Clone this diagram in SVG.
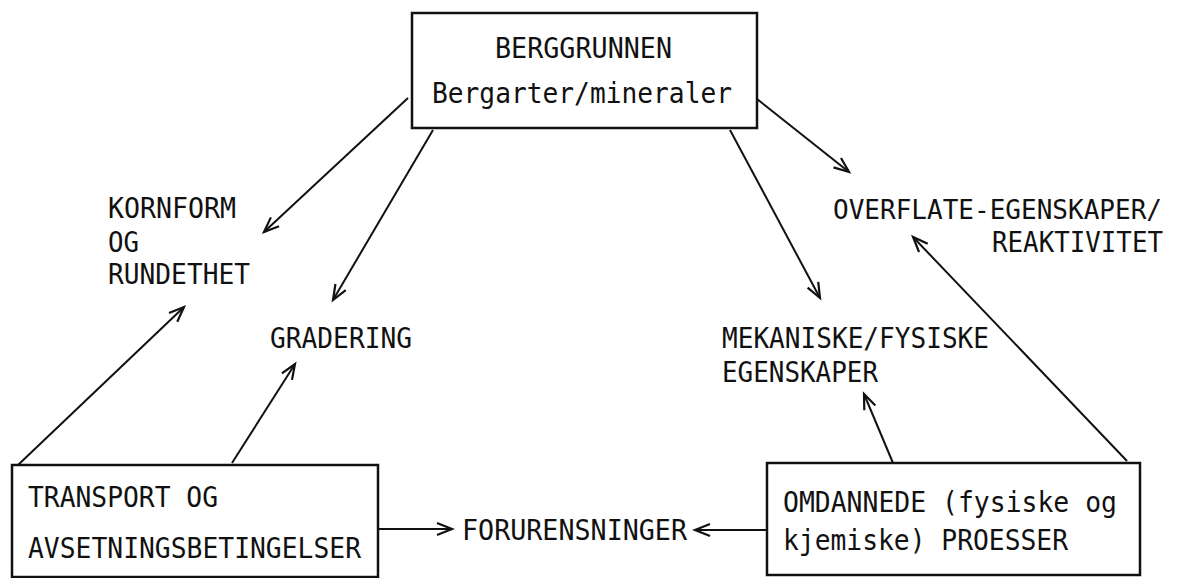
<svg xmlns="http://www.w3.org/2000/svg" width="1178" height="578" viewBox="0 0 1178 578">
<style>
text{font-family:"DejaVu Sans Mono","Liberation Mono",monospace;font-size:28px;fill:#111}
text.s{font-size:26px}
.box{fill:#fff;stroke:#111;stroke-width:2.5}
.c{fill:none;stroke:#111;stroke-width:2;marker-end:url(#ah)}
</style>
<defs>
<marker id="ah" viewBox="-16 -8 18 16" refX="0" refY="0" markerWidth="18" markerHeight="16" markerUnits="userSpaceOnUse" orient="auto" overflow="visible">
<path d="M-15,-6 L0,0 L-15,6" fill="none" stroke="#111" stroke-width="2.2"/>
</marker>
</defs>
<rect width="1178" height="578" fill="#fff"/>
<g id="connectors">
<line class="c" x1="408" y1="98" x2="264" y2="232"/>
<line class="c" x1="433" y1="130" x2="333" y2="300"/>
<line class="c" x1="18" y1="465" x2="184" y2="307"/>
<line class="c" x1="232" y1="463" x2="295" y2="364"/>
<line class="c" x1="757" y1="99" x2="849" y2="172"/>
<line class="c" x1="730" y1="130" x2="820" y2="298"/>
<line class="c" x1="893" y1="463" x2="864" y2="394"/>
<line class="c" x1="1127" y1="461" x2="913" y2="237"/>
<line class="c" x1="378" y1="529" x2="452" y2="529"/>
<line class="c" x1="767" y1="530" x2="695" y2="530"/>
</g>
<g id="berggrunnen">
<rect class="box" x="412" y="13" width="345" height="115"/>
<text x="495" y="58" textLength="177" lengthAdjust="spacingAndGlyphs">BERGGRUNNEN</text>
<text x="432" y="103" textLength="300" lengthAdjust="spacingAndGlyphs">Bergarter/mineraler</text>
</g>
<g id="kornform">
<text x="108" y="218" textLength="128" lengthAdjust="spacingAndGlyphs">KORNFORM</text>
<text x="108" y="252" textLength="31" lengthAdjust="spacingAndGlyphs">OG</text>
<text x="108" y="284" textLength="142" lengthAdjust="spacingAndGlyphs">RUNDETHET</text>
</g>
<g id="gradering">
<text x="270" y="348" textLength="142" lengthAdjust="spacingAndGlyphs">GRADERING</text>
</g>
<g id="overflate">
<text class="s" x="833" y="219" textLength="329" lengthAdjust="spacingAndGlyphs">OVERFLATE-EGENSKAPER/</text>
<text x="992" y="252" textLength="171" lengthAdjust="spacingAndGlyphs">REAKTIVITET</text>
</g>
<g id="mekaniske">
<text x="722" y="348" textLength="267" lengthAdjust="spacingAndGlyphs">MEKANISKE/FYSISKE</text>
<text x="722" y="382" textLength="156" lengthAdjust="spacingAndGlyphs">EGENSKAPER</text>
</g>
<g id="transport">
<rect class="box" x="12" y="465" width="366" height="112"/>
<text x="28" y="507" textLength="190" lengthAdjust="spacingAndGlyphs">TRANSPORT OG</text>
<text x="28" y="558" textLength="333" lengthAdjust="spacingAndGlyphs">AVSETNINGSBETINGELSER</text>
</g>
<g id="forurensninger">
<text x="462" y="540" textLength="225" lengthAdjust="spacingAndGlyphs">FORURENSNINGER</text>
</g>
<g id="omdannede">
<rect class="box" x="767" y="463" width="373" height="112"/>
<text x="783" y="512" textLength="334" lengthAdjust="spacingAndGlyphs">OMDANNEDE (fysiske og</text>
<text x="783" y="550" textLength="285" lengthAdjust="spacingAndGlyphs">kjemiske) PROESSER</text>
</g>
</svg>
